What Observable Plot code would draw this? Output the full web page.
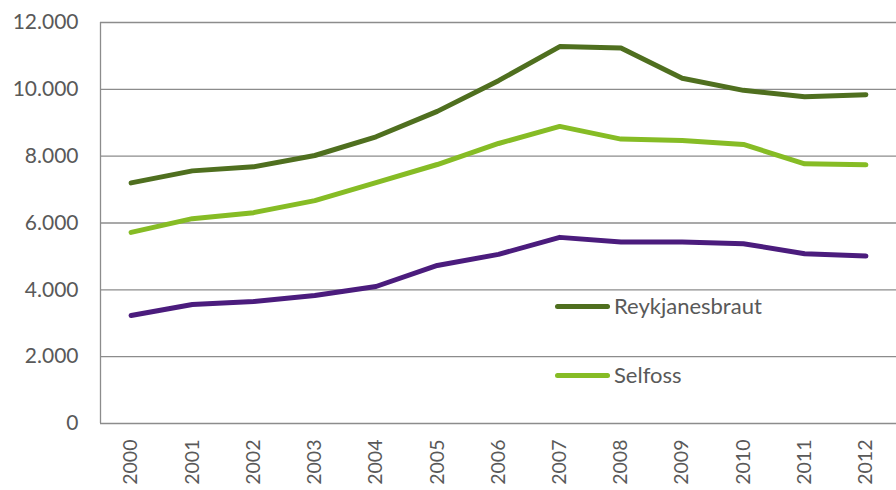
<!DOCTYPE html>
<html>
<head>
<meta charset="utf-8">
<script src="https://cdn.jsdelivr.net/npm/d3@7"></script>
<script src="https://cdn.jsdelivr.net/npm/@observablehq/plot@0.6"></script>
<style>
  html, body { margin: 0; padding: 0; background: #fff; }
  #wrap { position: relative; width: 896px; height: 490px; font-family: Lato, "Open Sans", sans-serif; }
  .leg { position: absolute; display: flex; align-items: center; color: #595959; font-size: 22px; line-height: 26px; }
  .leg .sw { width: 55px; height: 5px; border-radius: 3px; margin-right: 4px; }
</style>
</head>
<body>
<div id="wrap"></div>
<script>
const years = [2000, 2001, 2002, 2003, 2004, 2005, 2006, 2007, 2008, 2009, 2010, 2011, 2012];
const reykjanesbraut = [7200, 7560, 7680, 8020, 8580, 9340, 10260, 11280, 11240, 10330, 9970, 9780, 9840];
const selfoss = [5720, 6130, 6310, 6670, 7210, 7750, 8380, 8890, 8510, 8470, 8350, 7770, 7740];
const third = [3230, 3560, 3650, 3830, 4100, 4730, 5060, 5570, 5430, 5430, 5380, 5080, 5010];
const seriesNames = ["Reykjanesbraut", "Selfoss", ""];
const seriesColors = ["#4f6f1f", "#86bc25", "#4b1c7d"];
const yTicks = [0, 2000, 4000, 6000, 8000, 10000, 12000];

const data = [];
[reykjanesbraut, selfoss, third].forEach((vals, i) => {
  vals.forEach((v, j) => data.push({series: i, year: years[j], value: v}));
});

const fmt = d => d === 0 ? "0" : d3.format(",")(d).replace(/,/g, ".");

const chart = Plot.plot({
  width: 896,
  height: 490,
  marginLeft: 100,
  marginRight: 0,
  marginTop: 22,
  marginBottom: 67,
  style: {fontFamily: "Lato, 'Open Sans', sans-serif", color: "#595959", background: "#fff"},
  x: {domain: [1999.5, 2012.5]},
  y: {domain: [0, 12000]},
  marks: [
    Plot.ruleY(yTicks, {stroke: "#8c8c8c", strokeWidth: 1.3}),
    Plot.ruleX([1999.5], {stroke: "#8c8c8c", strokeWidth: 1.3}),
    Plot.axisY({ticks: yTicks, tickFormat: fmt, tickSize: 0, tickPadding: 22, fontSize: 21, fill: "#595959", label: null}),
    Plot.axisX({ticks: years, tickFormat: d => String(d), tickSize: 0, tickPadding: 16, tickRotate: -90, fontSize: 19.5, fill: "#595959", label: null}),
    Plot.line(data, {x: "year", y: "value", z: "series", stroke: d => seriesColors[d.series], strokeWidth: 5, strokeLinecap: "round", strokeLinejoin: "round"})
  ]
});
const wrap = document.getElementById("wrap");
wrap.appendChild(chart);

// Legend (inside plot area)
const legendPos = [{left: 555, top: 293}, {left: 555, top: 362}];
seriesNames.slice(0, 2).forEach((name, i) => {
  const d = document.createElement("div");
  d.className = "leg";
  d.style.left = legendPos[i].left + "px";
  d.style.top = legendPos[i].top + "px";
  const sw = document.createElement("span");
  sw.className = "sw";
  sw.style.background = seriesColors[i];
  const t = document.createElement("span");
  t.textContent = name;
  d.appendChild(sw);
  d.appendChild(t);
  wrap.appendChild(d);
});
</script>
</body>
</html>
